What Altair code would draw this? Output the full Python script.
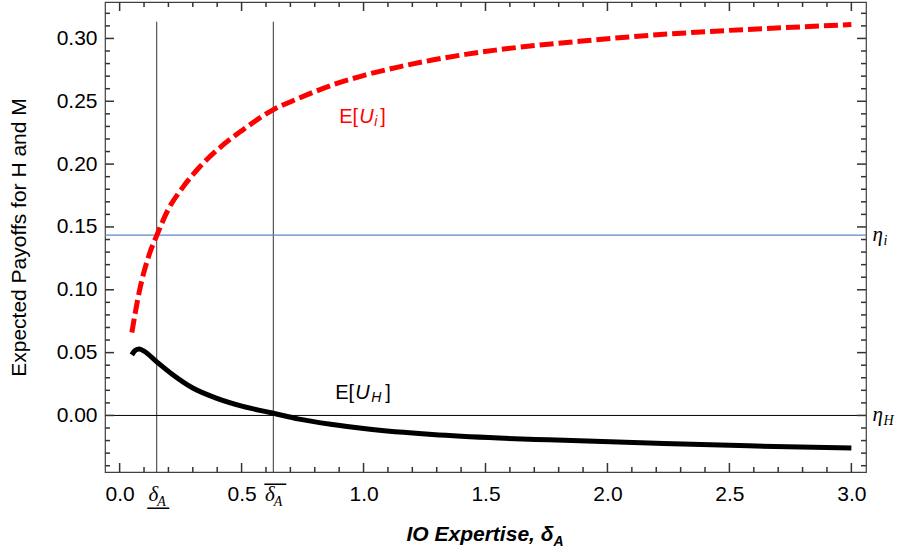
import altair as alt
import pandas as pd

# ---------------- data ----------------
red_x = [0.05, 0.082, 0.123, 0.153, 0.198, 0.259, 0.327, 0.409, 0.505, 0.627, 0.736,
         0.873, 1.009, 1.146, 1.282, 1.418, 1.541, 1.896, 2.169, 2.441, 2.714, 3.0]
red_y = [0.066, 0.0999, 0.129, 0.1436, 0.1635, 0.1815, 0.1975, 0.2128, 0.2272, 0.243, 0.2525,
         0.263, 0.271, 0.2774, 0.2828, 0.2873, 0.2907, 0.2979, 0.3024, 0.3058, 0.3085, 0.311]

black_x = [0.05, 0.064, 0.08, 0.10, 0.15, 0.218, 0.300, 0.396, 0.505, 0.627, 0.736, 0.873,
           1.009, 1.282, 1.555, 1.759, 2.169, 2.578, 3.0]
black_y = [0.0482, 0.0518, 0.0528, 0.0512, 0.0430, 0.0324, 0.0218, 0.0138, 0.0072, 0.0019,
           -0.0029, -0.0072, -0.0106, -0.0152, -0.0180, -0.0194, -0.0219, -0.0242, -0.0260]

delta_lo = 0.152
delta_hi = 0.63
vline_top = 0.3133
eta_i = 0.1435
eta_h = 0.0

x_major = [0.0, 0.5, 1.0, 1.5, 2.0, 2.5, 3.0]
x_minor = [0.1, 0.2, 0.3, 0.4, 0.6, 0.7, 0.8, 0.9, 1.1, 1.2, 1.3, 1.4, 1.6, 1.7, 1.8, 1.9,
           2.1, 2.2, 2.3, 2.4, 2.6, 2.7, 2.8, 2.9]
y_major = [0.0, 0.05, 0.10, 0.15, 0.20, 0.25, 0.30]
y_minor = [-0.04, -0.03, -0.02, -0.01, 0.01, 0.02, 0.03, 0.04, 0.06, 0.07, 0.08, 0.09,
           0.11, 0.12, 0.13, 0.14, 0.16, 0.17, 0.18, 0.19, 0.21, 0.22, 0.23, 0.24,
           0.26, 0.27, 0.28, 0.29, 0.31, 0.32]

label_x = [0.900, 0.884]          # E[U_i], E[U_H]
label_y = [0.2330, 0.0129]
label_color = ["#ff0000", "#000000"]
label_sub = ["i", "H"]

XDOM = [-0.06, 3.06]
YDOM = [-0.045, 0.329]

W, H = 761, 470
SANS = "Liberation Sans"
SERIF = "Liberation Serif"
FRAME = "#404040"
TICK = "#333333"
MAJOR, MINOR = 9, 5          # tick lengths in pixels

xs = alt.Scale(domain=XDOM, nice=False, zero=False)
ys = alt.Scale(domain=YDOM, nice=False, zero=False)


def label_axis(orient, values, expr, font, size, padding, offset=0, align=None,
               style="normal", **kw):
    args = dict(orient=orient, values=values, labelExpr=expr, labelFont=font,
                labelFontSize=size, labelFontStyle=style, labelPadding=padding,
                labelOffset=offset, labelBaseline="alphabetic", ticks=False, tickSize=0,
                domain=False, grid=False, labelFlush=False, labelOverlap=False,
                labelColor="#000000")
    if align:
        args["labelAlign"] = align
    args.update(kw)
    if "title" not in args:
        args["title"] = None
    return alt.Axis(**args)


x_main = alt.Axis(orient="bottom", values=x_major, format=".1f", labelFont=SANS,
                  labelFontSize=21, labelPadding=28, labelBaseline="alphabetic",
                  ticks=False, tickSize=0, domain=False, grid=False, labelFlush=False,
                  labelOverlap=False, labelColor="#000000",
                  title="IO Expertise, δ", titleFont=SANS, titleFontSize=21,
                  titleFontStyle="italic", titleFontWeight="bold", titleColor="#000000",
                  titleX=301, titleY=68.7, titleAlign="left", titleBaseline="alphabetic")
y_main = alt.Axis(orient="left", values=y_major, format=".2f", labelFont=SANS,
                  labelFontSize=21, labelPadding=8, ticks=False, tickSize=0, domain=False,
                  grid=False, labelFlush=False, labelOverlap=False, labelColor="#000000",
                  title="Expected Payoffs for H and M", titleFont=SANS, titleFontSize=21,
                  titleFontWeight="normal", titleColor="#000000", titleX=-80, titleY=235,
                  titleAngle=270, titleAlign="center", titleBaseline="alphabetic")

x_delta = label_axis("bottom", [delta_lo, delta_hi], "'δ'", SERIF, 21, 28, 1,
                     align="right", style="italic")
x_sub_a = label_axis("bottom", [delta_lo, delta_hi], "'A'", SERIF, 14, 33, 0,
                     align="left", style="italic",
                     title="A", titleFont=SANS, titleFontSize=14, titleFontStyle="italic",
                     titleFontWeight="bold", titleColor="#000000", titleX=448, titleY=73,
                     titleAlign="left", titleBaseline="alphabetic")
x_under = label_axis("bottom", [delta_lo], "'—'", SANS, 22, 41, 1, align="center")
x_over = label_axis("bottom", [delta_hi], "'—'", SANS, 22, 17, 1.5, align="center")

y_eta = label_axis("right", [eta_i, eta_h], "'η'", SERIF, 21, 6, 5, align="left",
                   style="italic")
y_eta_sub = label_axis("right", [eta_i, eta_h], "datum.value > 0.05 ? 'i' : 'H'", SERIF,
                       14, 17, 9, align="left", style="italic")

# ---------------- inward frame ticks (Mathematica style) ----------------
py = (YDOM[1] - YDOM[0]) / H
px = (XDOM[1] - XDOM[0]) / W
xt_rows = []
for vals, ln in ((x_major, MAJOR), (x_minor, MINOR)):
    for v in vals:
        xt_rows.append({"t": v, "a": YDOM[0], "b": YDOM[0] + ln * py})
        xt_rows.append({"t": v, "a": YDOM[1], "b": YDOM[1] - ln * py})
yt_rows = []
for vals, ln in ((y_major, MAJOR), (y_minor, MINOR)):
    for v in vals:
        yt_rows.append({"t": v, "a": XDOM[0], "b": XDOM[0] + ln * px})
        yt_rows.append({"t": v, "a": XDOM[1], "b": XDOM[1] - ln * px})

xticks = alt.Chart(pd.DataFrame(xt_rows)).mark_rule(color=TICK, strokeWidth=1.5).encode(
    x=alt.X("t:Q", scale=xs, axis=None),
    y=alt.Y("a:Q", scale=ys, axis=None),
    y2="b:Q",
)
yticks = alt.Chart(pd.DataFrame(yt_rows)).mark_rule(color=TICK, strokeWidth=1.5).encode(
    y=alt.Y("t:Q", scale=ys, axis=None),
    x=alt.X("a:Q", scale=xs, axis=None),
    x2="b:Q",
)

# ---------------- layers ----------------
df_v = pd.DataFrame({"x": [delta_lo, delta_hi], "y": [vline_top, vline_top],
                     "y2": [YDOM[0], YDOM[0]]})
vrules = alt.Chart(df_v).mark_rule(color="#333333", strokeWidth=1).encode(
    x=alt.X("x:Q", scale=xs, axis=x_main),
    y=alt.Y("y:Q", scale=ys, axis=y_main),
    y2="y2:Q",
)

hline_i = alt.Chart(pd.DataFrame({"y": [eta_i]})).mark_rule(
    color="#5c87c9", strokeWidth=1.2).encode(
    y=alt.Y("y:Q", scale=ys, axis=y_eta))

hline_h = alt.Chart(pd.DataFrame({"y": [eta_h]})).mark_rule(
    color="#000000", strokeWidth=1).encode(
    y=alt.Y("y:Q", scale=ys, axis=y_eta_sub))

red = alt.Chart(pd.DataFrame({"x": red_x, "y": red_y})).mark_line(
    color="#ff0000", strokeWidth=5, strokeDash=[14, 5], strokeCap="butt",
    interpolate="monotone", clip=True).encode(
    x=alt.X("x:Q", scale=xs, axis=x_delta),
    y=alt.Y("y:Q", scale=ys, axis=None),
)

black = alt.Chart(pd.DataFrame({"x": black_x, "y": black_y})).mark_line(
    color="#000000", strokeWidth=5, interpolate="monotone", clip=True).encode(
    x=alt.X("x:Q", scale=xs, axis=x_sub_a),
    y=alt.Y("y:Q", scale=ys, axis=None),
)

df_lab = pd.DataFrame({"x": label_x, "y": label_y, "c": label_color, "s": label_sub})
df_lab = df_lab.assign(e="E[", u="U", b="]")


def text_layer(df, text, dx, dy, size, style, xaxis=None):
    return alt.Chart(df).mark_text(align="left", baseline="alphabetic", font=SANS,
                                   fontSize=size, fontStyle=style, dx=dx, dy=dy).encode(
        x=alt.X("x:Q", scale=xs, axis=xaxis),
        y=alt.Y("y:Q", scale=ys, axis=None),
        text=alt.Text(text),
        color=alt.Color("c:N", scale=None),
    )


t_e = text_layer(df_lab, "e:N", 0, 0, 20, "normal", x_under)
t_u = text_layer(df_lab, "u:N", 20, 0, 20, "italic", x_over)
t_si = text_layer(df_lab.iloc[[0]], "s:N", 35, 3, 14, "italic")
t_sh = text_layer(df_lab.iloc[[1]], "s:N", 36, 3, 14, "italic")
t_bi = text_layer(df_lab.iloc[[0]], "b:N", 41, 0, 20, "normal")
t_bh = text_layer(df_lab.iloc[[1]], "b:N", 50, 0, 20, "normal")

chart = alt.layer(
    vrules, hline_i, hline_h, xticks, yticks, red, black,
    t_e, t_u, t_si, t_sh, t_bi, t_bh
).resolve_axis(
    x="independent", y="independent"
).properties(
    width=W, height=H,
    autosize=alt.AutoSizeParams(type="none"),
    padding={"left": 105, "top": 2, "right": 33, "bottom": 80},
    background="white",
).configure_view(
    stroke=FRAME, strokeWidth=1.2,
)

chart.save("out.html", embed_options={"renderer": "svg", "actions": False})
